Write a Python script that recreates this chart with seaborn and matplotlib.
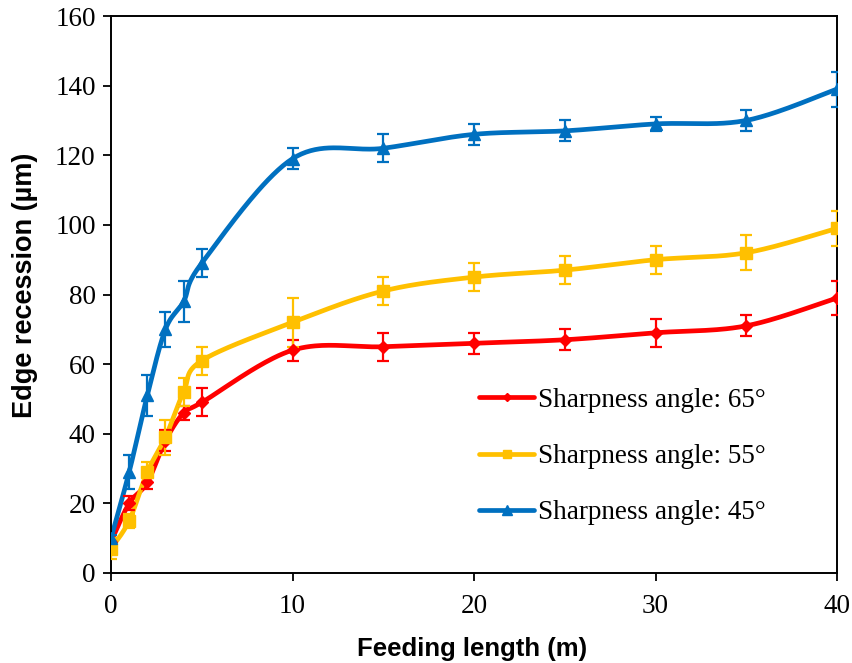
import numpy as np
import pandas as pd
import matplotlib
matplotlib.use("Agg")
import matplotlib.pyplot as plt
from matplotlib.lines import Line2D
import seaborn as sns

feed_length = [0, 1, 2, 3, 4, 5, 10, 15, 20, 25, 30, 35, 40]
edge_65 = [9, 20, 26, 38, 46, 49, 64, 65, 66, 67, 69, 71, 79]
err_65 = [1, 2, 2, 3, 2, 4, 3, 4, 3, 3, 4, 3, 5]
edge_55 = [7, 15, 29, 39, 52, 61, 72, 81, 85, 87, 90, 92, 99]
err_55 = [3, 2, 3, 5, 4, 4, 7, 4, 4, 4, 4, 5, 5]
edge_45 = [10, 29, 51, 70, 78, 89, 119, 122, 126, 127, 129, 130, 139]
err_45 = [1, 5, 6, 5, 6, 4, 3, 4, 3, 3, 2, 3, 5]
series_labels = ["Sharpness angle: 65°", "Sharpness angle: 55°", "Sharpness angle: 45°"]
x_ticks = [0, 10, 20, 30, 40]
y_ticks = [0, 20, 40, 60, 80, 100, 120, 140, 160]

sns.set_theme(style="ticks")
plt.rcParams["font.family"] = ["Liberation Serif", "DejaVu Serif"]
plt.rcParams["text.color"] = "black"
plt.rcParams["axes.labelcolor"] = "black"


def smooth(x, y, n=40):
    P = np.column_stack([x, y]).astype(float)
    ext = np.vstack([P[0], P, P[-1]])
    pts = []
    for i in range(len(P) - 1):
        p0, p1, p2, p3 = ext[i], ext[i + 1], ext[i + 2], ext[i + 3]
        c1 = p1 + (p2 - p0) / 6.0
        c2 = p2 - (p3 - p1) / 6.0
        t = np.linspace(0, 1, n, endpoint=(i == len(P) - 2))[:, None]
        B = ((1 - t) ** 3) * p1 + 3 * ((1 - t) ** 2) * t * c1 + 3 * (1 - t) * t ** 2 * c2 + t ** 3 * p2
        pts.append(B)
    pts = np.vstack(pts)
    return pts[:, 0], pts[:, 1]


fig = plt.figure(figsize=(8.53, 6.63), dpi=100)
ax = fig.add_axes([111 / 853, 1 - 573 / 663, (837 - 111) / 853, (573 - 16) / 663])

series = [
    (edge_65, err_65, "#FF0000", "D", 6.0),
    (edge_55, err_55, "#FFC000", "s", 8.5),
    (edge_45, err_45, "#0070C0", "^", 9.0),
]

handles = []
for (vals, errs, col, mk, ms), lab in zip(series, series_labels):
    sx, sy = smooth(feed_length, vals)
    df = pd.DataFrame({"x": sx, "y": sy})
    sns.lineplot(data=df, x="x", y="y", sort=False, estimator=None, color=col, lw=3.4, ax=ax)
    ax.errorbar(feed_length, vals, yerr=errs, fmt=mk, color=col, ms=ms, capsize=4.5,
                elinewidth=1.6, capthick=1.6, ls="none", zorder=3)
    handles.append(Line2D([0], [0], color=col, lw=3.4, marker=mk, ms=ms * 0.75, label=lab))

ax.set_xlim(0, 40)
ax.set_ylim(0, 160)
ax.set_xticks(x_ticks)
ax.set_yticks(y_ticks)
ax.tick_params(axis="both", direction="out", length=6, width=1.3, labelsize=19.5, colors="black",
               pad=5)
ax.tick_params(axis="x", pad=9)
for s in ax.spines.values():
    s.set_visible(True)
    s.set_linewidth(1.4)
    s.set_color("black")

ax.set_xlabel("Feeding length (m)", fontsize=18.5, fontweight="bold", color="black",
              family=["Liberation Sans", "DejaVu Sans"])
ax.set_ylabel("Edge recession (µm)", fontsize=19.5, fontweight="bold", color="black",
              family=["Liberation Sans", "DejaVu Sans"])
ax.xaxis.set_label_coords(((358 + 587) / 2 - 111) / 726, 1 - (649 - 16) / 557)
ax.yaxis.set_label_coords((25 - 111) / 726, 1 - (285 - 16) / 557)
ax.xaxis.label.set_verticalalignment("center")
ax.yaxis.label.set_verticalalignment("center")

leg = ax.legend(handles=handles, loc="upper left",
                bbox_to_anchor=((460 - 111) / 726, 1 - (369 - 16) / 557),
                frameon=False, fontsize=19.5, handlelength=2.05, handletextpad=0.12,
                labelspacing=1.15, borderpad=0.2)
for txt in leg.get_texts():
    txt.set_color("black")

fig.savefig("out.png", dpi=100)
